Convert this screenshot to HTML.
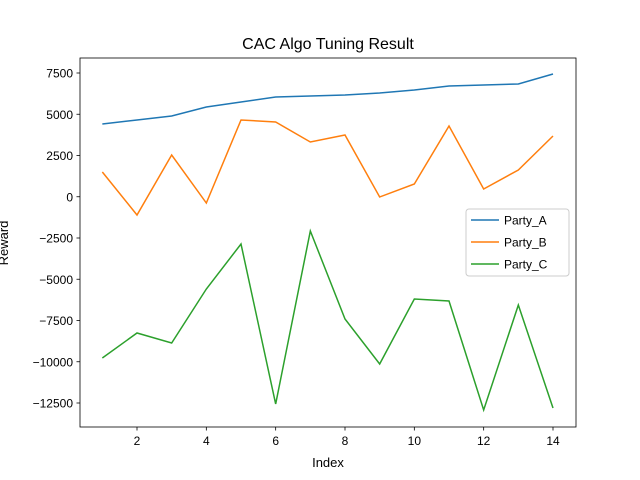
<!DOCTYPE html>
<html><head><meta charset="utf-8"><style>
body{margin:0;background:#fff;}
svg{display:block;font-family:"Liberation Sans","DejaVu Sans",sans-serif;}
</style></head><body>
<svg id="chart" width="640" height="480" viewBox="0 0 640 480">
<rect width="640" height="480" fill="#fff"/>
<text x="328" y="49" font-size="16" text-anchor="middle">CAC Algo Tuning Result</text>
<g id="plot"></g>
<text x="328" y="467" font-size="13" text-anchor="middle">Index</text>
<text transform="translate(8,243) rotate(-90)" font-size="13" text-anchor="middle">Reward</text>
</svg>
<script>
const indices=[1,2,3,4,5,6,7,8,9,10,11,12,13,14];
const partyA=[4409,4652,4894,5439,5742,6045,6106,6167,6288,6470,6712,6773,6833,7439];
const partyB=[1500,-1106,2530,-379,4652,4530,3318,3742,-15,773,4288,470,1621,3682];
const partyC=[-9773,-8258,-8864,-5591,-2864,-12561,-2076,-7409,-10136,-6197,-6318,-12924,-6561,-12803];
const seriesNames=["Party_A","Party_B","Party_C"];
const xTicks=[2,4,6,8,10,12,14];
const yTicks=[7500,5000,2500,0,-2500,-5000,-7500,-10000,-12500];
const yTickLabels=["7500","5000","2500","0","−2500","−5000","−7500","−10000","−12500"];
const colors=["#1f77b4","#ff7f0e","#2ca02c"];
const L=80,R=576,T=58,B=427;
const xs=v=>137+(v-2)*(553-137)/12;
const ys=v=>73+(7500-v)*(403-73)/20000;
const ns="http://www.w3.org/2000/svg";
const g=document.getElementById('plot');
function mk(t,a){const e=document.createElementNS(ns,t);for(const k in a)e.setAttribute(k,a[k]);g.appendChild(e);return e;}
[partyA,partyB,partyC].forEach((s,i)=>{
  const p=mk('polyline',{points:s.map((v,j)=>xs(indices[j])+','+ys(v)).join(' '),fill:'none',stroke:colors[i],'stroke-width':1.5});
  
  
});
const fr=mk('rect',{x:L,y:T,width:R-L,height:B-T,fill:'none',stroke:'#000','stroke-width':0.8});


xTicks.forEach(v=>{
  mk('line',{x1:xs(v),x2:xs(v),y1:B,y2:B+3.5,stroke:'#000','stroke-width':0.8});
  const t=mk('text',{x:xs(v),y:B+18,'font-size':12,'text-anchor':'middle'});t.textContent=v;
  
  
});
yTicks.forEach((v,i)=>{
  mk('line',{x1:L-3.5,x2:L,y1:ys(v),y2:ys(v),stroke:'#000','stroke-width':0.8});
  const t=mk('text',{x:L-7,y:ys(v)+4.5,'font-size':12,'text-anchor':'end'});t.textContent=yTickLabels[i];
  
  
});
const lg=mk('rect',{x:466,y:209,width:103,height:67,rx:3,fill:'#fff',stroke:'#ccc','stroke-width':1});


seriesNames.forEach((n,i)=>{
  const y=220+i*22;
  mk('line',{x1:471,x2:499,y1:y,y2:y,stroke:colors[i],'stroke-width':1.5});
  const t=mk('text',{x:504,y:y+4.5,'font-size':12});t.textContent=n;
  
  
});
</script>
</body></html>
